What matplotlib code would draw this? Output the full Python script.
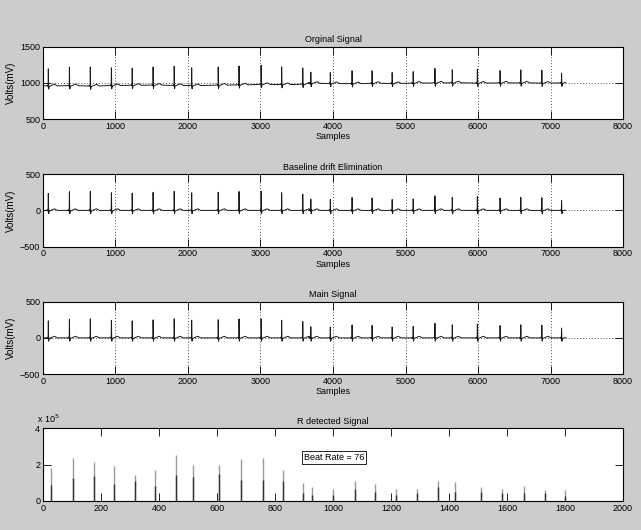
import matplotlib
matplotlib.use("Agg")
import matplotlib.pyplot as plt
import matplotlib.font_manager as fm

# ── font: narrow sans to mimic MATLAB's squeezed Helvetica ───────────────────
for fname in ["Liberation Sans Narrow", "Liberation Sans"]:
    try:
        fm.findfont(fname, fallback_to_default=False)
        plt.rcParams["font.family"] = fname
        break
    except Exception:
        pass

# ── data ─────────────────────────────────────────────────────────────────────
# R-peak sample positions and heights (mV above baseline)
beat_pos = [74, 365, 653, 944, 1231, 1519, 1810, 2051, 2417, 2704, 3009, 3292, 3583,
            3694, 3963, 4263, 4539, 4816, 5106, 5406, 5645, 5991, 6304, 6590, 6880, 7152]
r_amp = [234, 257, 262, 243, 234, 248, 262, 243, 250, 260, 262, 243, 224,
         154, 150, 178, 172, 150, 158, 200, 180, 190, 170, 180, 175, 135]
# baseline of the raw signal at each beat
raw_base = [960, 962, 958, 965, 968, 970, 966, 964, 970, 974, 980, 978, 982,
            995, 992, 990, 995, 993, 998, 1000, 1002, 998, 1000, 1000, 998, 1000]
# one beat: sample offsets around R and level (None = R peak)
beat_off = [-30, -8, -3, 0, 5, 12, 45, 85, 125]
beat_val = [0, 8, -12, None, -45, -8, 5, 22, 0]
sig_end = 7210

# R detected signal (x in samples/4, heights in units of 1e5)
r_x = [29, 103, 175, 246, 317, 387, 459, 519, 608, 683, 757, 827, 895, 929,
       1000, 1075, 1146, 1218, 1289, 1361, 1420, 1511, 1584, 1659, 1730, 1801]
r_tall = [1.81, 2.37, 2.15, 1.91, 1.43, 1.70, 2.54, 1.96, 2.00, 2.33, 2.37, 1.72, 0.98,
          0.74, 0.68, 1.08, 0.92, 0.63, 0.68, 1.10, 1.04, 0.74, 0.63, 0.81, 0.59, 0.59]
r_short = [0.89, 1.26, 1.37, 0.94, 1.11, 0.83, 1.43, 1.33, 1.48, 1.17, 1.17, 1.09, 0.43,
           0.33, 0.32, 0.68, 0.50, 0.32, 0.41, 0.74, 0.50, 0.50, 0.45, 0.41, 0.41, 0.27]
beat_rate = 76


def ecg_trace(bases):
    xs, ys = [0], [bases[0]]
    for p, r, b in zip(beat_pos, r_amp, bases):
        for o, v in zip(beat_off, beat_val):
            if p + o >= sig_end:
                continue
            xs.append(p + o)
            ys.append(b + (r if v is None else v))
    xs.append(sig_end)
    ys.append(bases[-1])
    return xs, ys


FS = 6.5
fig = plt.figure(figsize=(6.41, 5.30), dpi=100, facecolor="#cccccc")
L, W, H = 0.067, 0.905, 0.137
bottoms = [0.775, 0.5345, 0.294, 0.055]
axes = [fig.add_axes([L, b, W, H]) for b in bottoms]

panels = [
    ("Orginal Signal", raw_base, (500, 1500), [500, 1000, 1500]),
    ("Baseline drift Elimination", [0] * len(beat_pos), (-500, 500), [-500, 0, 500]),
    ("Main Signal", [0] * len(beat_pos), (-500, 500), [-500, 0, 500]),
]
for ax, (title, bases, ylim, yt) in zip(axes[:3], panels):
    xs, ys = ecg_trace(bases)
    ax.plot(xs, ys, color="#1a1a1a", lw=0.7)
    ax.set_xlim(0, 8000)
    ax.set_ylim(*ylim)
    ax.set_xticks(range(0, 8001, 1000))
    ax.set_yticks(yt)
    ax.grid(True, color="#555555", ls=(0, (1, 2)), lw=0.7)
    ax.set_title(title, fontsize=FS, pad=3)
    ax.set_xlabel("Samples", fontsize=FS, labelpad=1)
    ax.set_ylabel("Volts(mV)", fontsize=FS + 0.5, labelpad=3)

# ── R detected signal ────────────────────────────────────────────────────────
ax = axes[3]
ax.vlines(r_x, 0, [h * 1e5 for h in r_tall], color="#9a9a9a", lw=1.0)
ax.vlines(r_x, 0, [h * 1e5 for h in r_short], color="#333333", lw=1.0)
ax.set_xlim(0, 2000)
ax.set_ylim(0, 4e5)
ax.set_xticks(range(0, 2001, 200))
ax.set_yticks([0, 2e5, 4e5])
ax.set_yticklabels(["0", "2", "4"])
ax.set_title("R detected Signal", fontsize=FS, pad=3)
ax.text(-0.01, 1.04, r"x 10$^5$", transform=ax.transAxes, fontsize=FS, ha="left", va="bottom")
ax.text(900, 2.4e5, f"Beat Rate = {beat_rate}", fontsize=FS, ha="left", va="center",
        bbox=dict(facecolor="white", edgecolor="black", lw=0.6, pad=1.5))

for ax in axes:
    ax.set_facecolor("white")
    ax.tick_params(direction="in", top=True, right=True, length=5.5, width=0.6,
                   labelsize=FS, pad=2)
    for s in ax.spines.values():
        s.set_linewidth(0.8)

fig.savefig("out.png", dpi=100, facecolor=fig.get_facecolor())
